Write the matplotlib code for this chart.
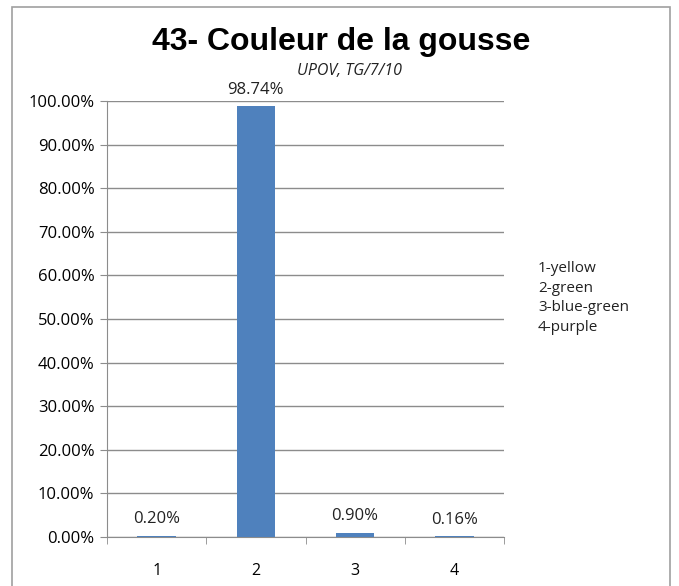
import matplotlib.pyplot as plt
from matplotlib.patches import Rectangle
from matplotlib.ticker import FuncFormatter, FixedLocator

categories = ['1', '2', '3', '4']
values = [0.20, 98.74, 0.90, 0.16]
value_labels = ['0.20%', '98.74%', '0.90%', '0.16%']
legend_lines = ['1-yellow', '2-green', '3-blue-green', '4-purple']

plt.rcParams['font.family'] = ['Open Sans', 'DejaVu Sans']

fig = plt.figure(figsize=(6.79, 5.86), dpi=100)

# outer chart frame
fig.patches.append(Rectangle((12/679, -0.05), (670-12)/679, 1.05 - 7/586,
                             transform=fig.transFigure, fill=False,
                             edgecolor='#a0a0a0', lw=1.2))

ax = fig.add_axes([107/679, 49/586, 397/679, 436/586])
x = range(len(categories))
ax.bar(x, values, width=0.39, color='#4F81BD', zorder=3)
for i, (v, lab) in enumerate(zip(values, value_labels)):
    ax.text(i, v + 2.0, lab, ha='center', va='bottom', fontsize=12, color='#222222')

ax.set_xlim(-0.5, 3.5)
ax.set_ylim(0, 100)
ax.set_yticks([i * 10 for i in range(11)])
ax.yaxis.set_major_formatter(FuncFormatter(lambda v, p: f'{v:.2f}%'))
ax.grid(axis='y', color='#8c8c8c', lw=1, zorder=0)
ax.set_xticks(list(x))
ax.set_xticklabels(categories, fontsize=11.5)
ax.xaxis.set_minor_locator(FixedLocator([-0.5, 0.5, 1.5, 2.5, 3.5]))
ax.tick_params(axis='x', which='major', length=0, pad=19)
ax.tick_params(axis='x', which='minor', length=5, color='#8c8c8c')
ax.tick_params(axis='y', length=5, color='#8c8c8c', labelsize=12, pad=4)
for s in ['top', 'right']:
    ax.spines[s].set_visible(False)
for s in ['left', 'bottom']:
    ax.spines[s].set_color('#8c8c8c')

fig.text(341/679, 1 - 42/586, '43- Couleur de la gousse', ha='center', va='center',
         fontsize=23, fontweight='bold', family='Liberation Sans')
fig.text(350/679, 1 - 71/586, 'UPOV, TG/7/10', ha='center', va='center',
         fontsize=11.5, style='italic', color='#222222')
fig.text(538/679, 1 - 298/586, '\n'.join(legend_lines), ha='left', va='center',
         fontsize=11, linespacing=1.4, color='#222222')

fig.savefig('out.png', dpi=100)
